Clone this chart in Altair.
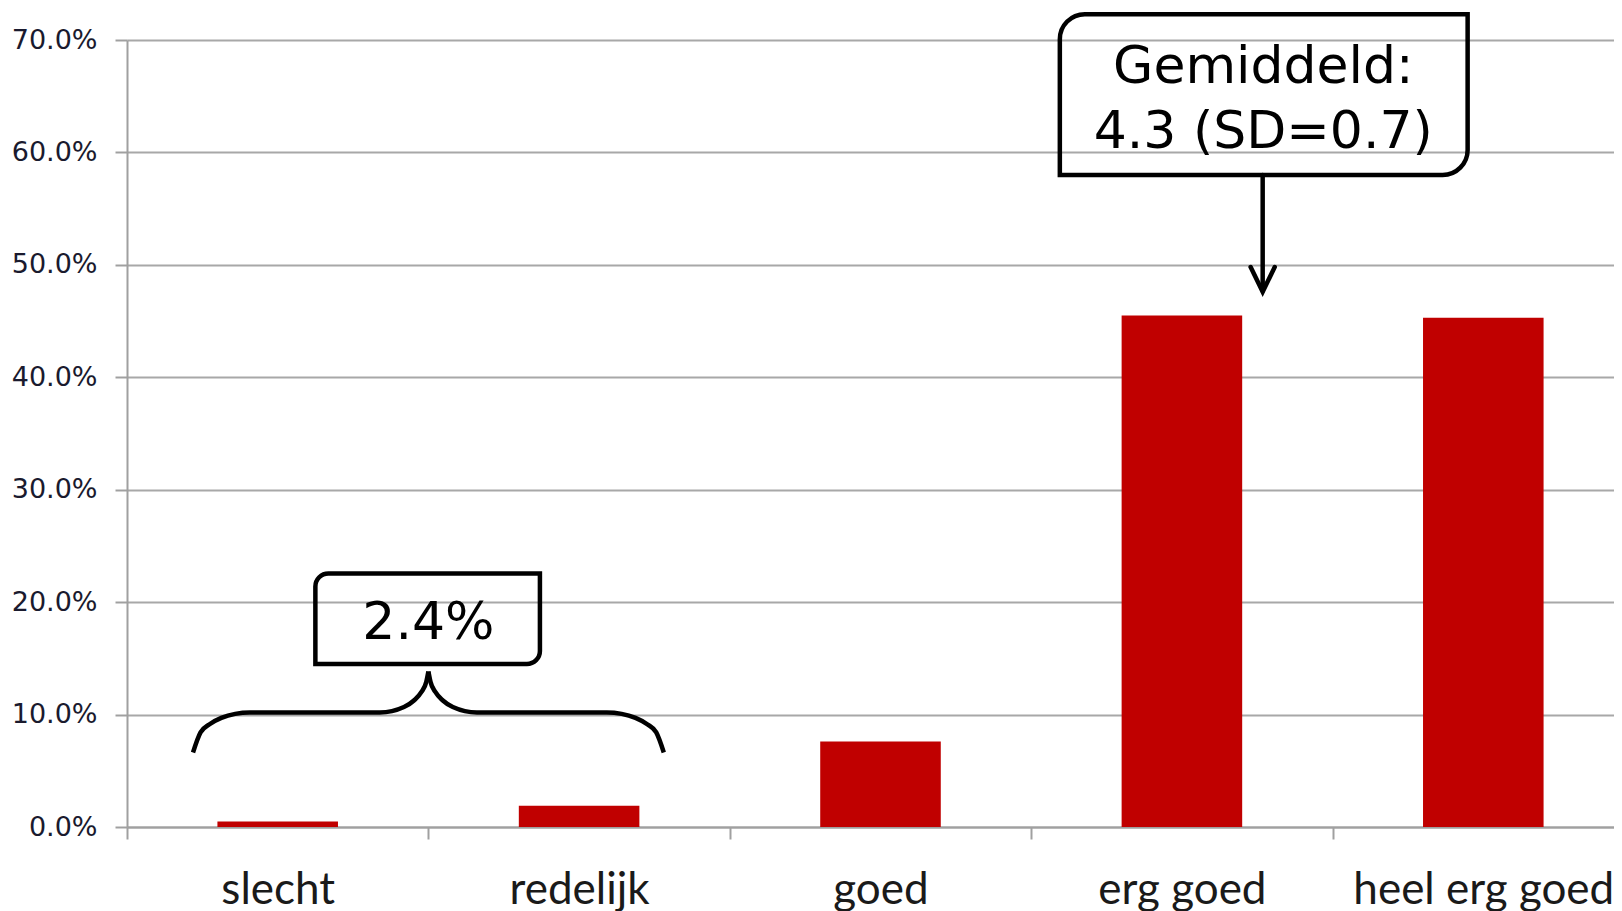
import altair as alt
import pandas as pd

# ---------------- data ----------------
categories = ["slecht", "redelijk", "goed", "erg goed", "heel erg goed"]
percentages = [0.5, 1.9, 7.6, 45.5, 45.3]
y_ticks = [0, 10, 20, 30, 40, 50, 60, 70]

# annotation texts
mean_lines = ["Gemiddeld:", "4.3 (SD=0.7)"]
share_text = "2.4%"

# annotation geometry in data units (x: category index units, y: percent)
mean_text_u = [3.77, 3.77]
mean_text_p = [66.2, 60.4]
share_text_u = [1.0]
share_text_p = [16.7]

box_mean = {"u1": 3.095, "u2": 4.448, "p1": 58.0, "p2": 72.3}
box_share = {"u1": 0.625, "u2": 1.37, "p1": 14.5, "p2": 22.55}

# left half of the curly brace (end -> peak); the right half mirrors it around u = 1
brace_half_u = [0.219, 0.244, 0.274, 0.313, 0.359, 0.408, 0.839, 0.919, 0.952, 0.977, 0.993, 1.0]
brace_half_p = [6.63, 8.41, 9.14, 9.70, 10.06, 10.18, 10.18, 10.67, 11.25, 12.01, 12.91, 13.83]

arrow_shaft_u = [3.768, 3.768]
arrow_shaft_p = [58.0, 47.7]
arrow_head_u = [3.728, 3.768, 3.808]
arrow_head_p = [49.8, 47.6, 49.8]

# ---------------- tables ----------------
bars_df = pd.DataFrame({"cat": categories, "pct": [v / 100 for v in percentages]})

n_half = len(brace_half_u)
brace_df = pd.DataFrame({
    "u": brace_half_u + [2 - u for u in brace_half_u],
    "p": [v / 100 for v in brace_half_p + brace_half_p],
    "part": ["L"] * n_half + ["R"] * n_half,
    "i": list(range(n_half)) + list(range(n_half, 0, -1)),
})
arrow_df = pd.DataFrame({
    "u": arrow_shaft_u + arrow_head_u,
    "p": [v / 100 for v in arrow_shaft_p + arrow_head_p],
    "part": ["shaft"] * 2 + ["head"] * 3,
    "i": [0, 1, 0, 1, 2],
})
text_df = pd.DataFrame({
    "u": mean_text_u + share_text_u,
    "p": [v / 100 for v in mean_text_p + share_text_p],
    "t": mean_lines + [share_text],
})
box1_df = pd.DataFrame([{k: (v / 100 if k.startswith("p") else v) for k, v in box_mean.items()}])
box2_df = pd.DataFrame([{k: (v / 100 if k.startswith("p") else v) for k, v in box_share.items()}])

# ---------------- scales ----------------
y_scale = alt.Scale(domain=[0, 0.7], nice=False, zero=True)
u_scale = alt.Scale(domain=[0, 5], nice=False, zero=False)

AX_GRAY = "#a0a0a0"

bars = alt.Chart(bars_df).mark_bar(color="#C00000", width={"band": 0.4}).encode(
    x=alt.X(
        "cat:N", sort=categories, title=None,
        scale=alt.Scale(paddingInner=0, paddingOuter=0),
        axis=alt.Axis(
            labelAngle=0, labelFont="Lato", labelFontSize=44, labelColor="#1a1a1a",
            tickBand="extent", tickSize=12, tickWidth=2, tickColor=AX_GRAY,
            domainColor=AX_GRAY, domainWidth=2, labelPadding=64, labelLimit=0,
            labelBaseline="alphabetic", grid=False,
        ),
    ),
    y=alt.Y(
        "pct:Q", scale=y_scale, title=None,
        axis=alt.Axis(
            values=[t / 100 for t in y_ticks], format=".1%",
            labelFont="DejaVu Sans", labelFontSize=27, labelColor="#1a1a2e",
            labelPadding=18, tickSize=12, tickWidth=2, tickColor=AX_GRAY,
            domainColor=AX_GRAY, domainWidth=2,
            grid=True, gridColor="#a8a8a8", gridWidth=2,
        ),
    ),
)

ux = lambda f: alt.X(f, type="quantitative", scale=u_scale, axis=None)
py = lambda f: alt.Y(f, type="quantitative", scale=y_scale, axis=None)

box1 = alt.Chart(box1_df).mark_rect(
    fill="white", fillOpacity=0, stroke="black", strokeWidth=4.5,
    cornerRadiusTopLeft=25, cornerRadiusBottomRight=25,
).encode(x=ux("u1"), x2="u2", y=py("p1"), y2="p2")

box2 = alt.Chart(box2_df).mark_rect(
    fill="white", fillOpacity=0, stroke="black", strokeWidth=4.5,
    cornerRadiusTopLeft=13, cornerRadiusBottomRight=13,
).encode(x=ux("u1"), x2="u2", y=py("p1"), y2="p2")

brace = alt.Chart(brace_df).mark_line(
    color="black", strokeWidth=4.5, interpolate="monotone", strokeCap="butt",
).encode(x=ux("u"), y=py("p"), detail="part:N", order="i:Q")

arrow = alt.Chart(arrow_df).mark_line(
    color="black", strokeWidth=4.5, strokeCap="round", strokeJoin="miter",
).encode(x=ux("u"), y=py("p"), detail="part:N", order="i:Q")

texts = alt.Chart(text_df).mark_text(
    font="DejaVu Sans", fontSize=52, baseline="alphabetic", align="center", color="black",
).encode(x=ux("u"), y=py("p"), text="t:N")

chart = alt.layer(bars, box1, box2, brace, arrow, texts).resolve_scale(
    x="independent", y="shared"
).resolve_axis(
    x="independent", y="independent"
).properties(
    width=1507, height=787,
    autosize=alt.AutoSizeParams(type="none"),
    padding={"left": 119, "top": 32, "right": -20, "bottom": 90},
    background="white",
).configure_view(strokeWidth=0)

chart.save("out.html", embed_options={"renderer": "svg", "actions": False})
